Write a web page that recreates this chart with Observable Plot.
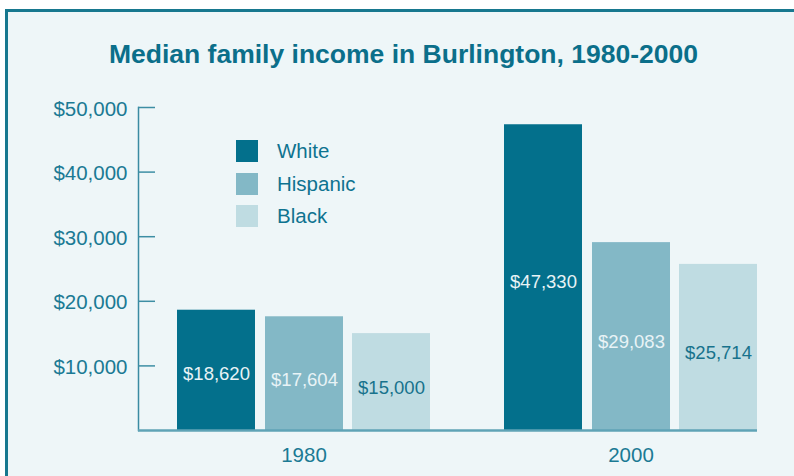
<!DOCTYPE html>
<html><head><meta charset="utf-8">
<script src="https://cdn.jsdelivr.net/npm/d3@7"></script>
<script src="https://cdn.jsdelivr.net/npm/@observablehq/plot@0.6"></script>
<style>
html,body{margin:0;padding:0;background:#fff;width:794px;height:476px;overflow:hidden;font-family:"Liberation Sans",Arial,Helvetica,sans-serif;}
#panel{position:absolute;left:5px;top:9px;width:820px;height:500px;box-sizing:border-box;border-left:3px solid #17788f;border-top:3px solid #17788f;background:#eef6f8;}
#title{position:absolute;left:0;width:807px;top:39px;line-height:30px;text-align:center;font-size:26.5px;font-weight:bold;color:#0b6f8a;}
#chart{position:absolute;left:0;top:91px;}
#legend{position:absolute;left:236px;top:140px;}
.row{display:flex;align-items:center;height:22px;margin-bottom:10.5px;}
.sw{width:22px;height:22px;margin-right:19px;}
.lab{font-size:20.5px;line-height:22px;color:#0e7390;}
</style></head><body>
<div id="panel"></div>
<div id="title">Median family income in Burlington, 1980-2000</div>
<div id="chart"></div>
<div id="legend"></div>
<script>
const years = ["1980", "2000"];
const series = ["White", "Hispanic", "Black"];
const white = [18620, 47330];
const hispanic = [17604, 29083];
const black = [15000, 25714];
const yTicks = [10000, 20000, 30000, 40000, 50000];
const colors = ["#03708c", "#83b8c6", "#bfdce2"];
const labelColors = ["#e8f3f6", "#e8f3f6", "#17728c"];

const values = [white, hispanic, black];
const rows = series.flatMap((s, si) => years.map((y, yi) => ({year: y, series: s, value: values[si][yi]})));
const fmt = d3.format("$,");

// per-series placement of the bar within its year band (styles)
const insets = [[0, 175], [88, 87], [175, 0]];
const dxs = [-87.5, 0.5, 87.5];
const dys = [4, 6, 6];

const marks = [
  Plot.frame({anchor: "left", stroke: "#3a8ba2", strokeWidth: 1.5}),
  ...series.map((s, i) => Plot.barY(rows.filter(d => d.series === s), {
    x: "year", y: "value", fill: colors[i], insetLeft: insets[i][0], insetRight: insets[i][1]
  })),
  Plot.ruleY([0], {stroke: "#5fa3b6", strokeWidth: 2.5}),
  Plot.tickY(yTicks, {y: d => d, stroke: "#3d8ea4", strokeWidth: 1.5, insetRight: 602}),
  Plot.axisY({ticks: yTicks, tickSize: 0, tickPadding: 11, tickFormat: fmt, fontSize: 20.5, color: "#1b7a94", label: null, dy: 1.5}),
  Plot.axisX({tickSize: 0, tickPadding: 17, fontSize: 20.5, color: "#1b7a94", label: null}),
  ...series.map((s, i) => Plot.text(rows.filter(d => d.series === s), {
    x: "year", y: d => d.value / 2, text: d => fmt(d.value), dx: dxs[i], dy: dys[i],
    fill: labelColors[i], fontSize: 18.5
  }))
];

const chart = Plot.plot({
  width: 794, height: 385,
  marginLeft: 138, marginRight: 37, marginTop: 16, marginBottom: 46,
  style: {background: "transparent", color: "#1b7a94", fontFamily: "'Liberation Sans', Arial, Helvetica, sans-serif", overflow: "visible"},
  x: {type: "band", domain: years, paddingInner: 0.2256, paddingOuter: 0.0564, align: 1},
  y: {domain: [0, 50000]},
  marks
});
document.getElementById("chart").appendChild(chart);

const legend = document.getElementById("legend");
series.forEach((s, i) => {
  const row = document.createElement("div");
  row.className = "row";
  const sw = document.createElement("div");
  sw.className = "sw";
  sw.style.background = colors[i];
  const lab = document.createElement("div");
  lab.className = "lab";
  lab.textContent = s;
  row.appendChild(sw); row.appendChild(lab);
  legend.appendChild(row);
});
</script>
</body></html>
